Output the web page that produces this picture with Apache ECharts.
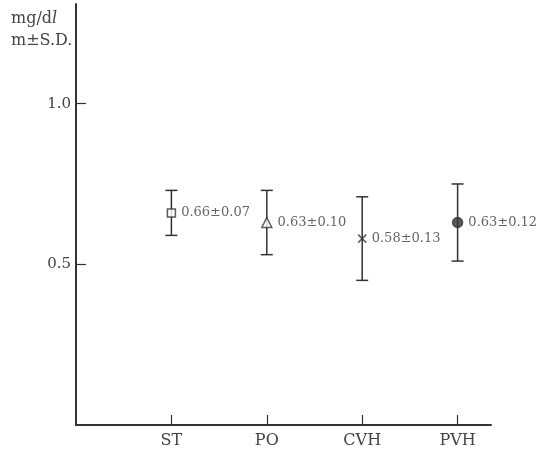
<!DOCTYPE html>
<html>
<head>
<meta charset="utf-8">
<script src="https://cdn.jsdelivr.net/npm/echarts@6/dist/echarts.min.js"></script>
<style>
  html, body { margin: 0; padding: 0; background: #fff; }
  #main { width: 540px; height: 455px; }
</style>
</head>
<body>
<div id="main"></div>
<script>
// 数据
var groups = ['ST', 'PO', 'CVH', 'PVH'];
var means = [0.66, 0.63, 0.58, 0.63];
var sds = [0.07, 0.10, 0.13, 0.12];
var yTicks = [0.5, 1.0];
var xTicks = [1, 2, 3, 4];

var ink = '#333';
var txt = '#444';
var font = 'DejaVu Serif';

// 各组的标记
var marks = [
	{ symbol: 'rect', size: 8, fill: '#fff', gap: 5 },
	{ symbol: 'triangle', size: 10, fill: '#fff', gap: 5 },
	{ symbol: 'path://M0,0L10,10M10,0L0,10', size: 8, fill: 'none', gap: 3 },
	{ symbol: 'circle', size: 10, fill: ink, gap: 5 }
];

var pts = groups.map(function(g, i) {
	return {
		value: [xTicks[i], means[i], sds[i]],
		symbol: marks[i].symbol,
		symbolSize: marks[i].size,
		itemStyle: { color: marks[i].fill, borderColor: ink, borderWidth: 1.5 },
		label: { distance: marks[i].gap }
	};
});

var chart = echarts.init(document.getElementById('main'));
var option = {
	animation: false,
	backgroundColor: '#fff',
	title: {
		left: 6,
		top: 3,
		text: '{a|mg/d}{b|l}\n{a|m±S.D.}',
		textStyle: {
			fontWeight: 'normal',
			rich: {
				a: { fontFamily: font, fontSize: 16, fontWeight: 'normal', color: txt, lineHeight: 22 },
				b: { fontFamily: font, fontSize: 16, fontWeight: 'normal', fontStyle: 'italic', color: txt, lineHeight: 22 }
			}
		}
	},
	grid: { left: 76, right: 49, top: 4, bottom: 30 },
	xAxis: {
		type: 'value',
		min: 0,
		max: 4.35,
		interval: 1,
		splitLine: { show: false },
		axisLine: { show: true, lineStyle: { color: ink, width: 2 } },
		axisTick: { show: true, inside: true, length: 10, customValues: xTicks, lineStyle: { color: ink, width: 1.2 } },
		axisLabel: {
			margin: 8,
			color: txt,
			fontFamily: font,
			fontSize: 16,
			customValues: xTicks,
			formatter: function(v) { return groups[xTicks.indexOf(v)] || ''; }
		}
	},
	yAxis: {
		type: 'value',
		min: 0,
		max: 1.31,
		interval: 0.5,
		splitLine: { show: false },
		axisLine: { show: true, lineStyle: { color: ink, width: 2 } },
		axisTick: { show: true, inside: true, length: 10, customValues: yTicks, lineStyle: { color: ink, width: 1.2 } },
		axisLabel: {
			margin: 5,
			color: txt,
			fontFamily: font,
			fontSize: 15,
			customValues: yTicks,
			formatter: function(v) { return v.toFixed(1); }
		}
	},
	series: [{
		// 误差线
		type: 'custom',
		data: groups.map(function(g, i) { return [xTicks[i], means[i], sds[i]]; }),
		renderItem: function(params, api) {
			var x = api.value(0), m = api.value(1), s = api.value(2);
			var hi = api.coord([x, m + s]);
			var lo = api.coord([x, m - s]);
			var w = 6;
			var st = { stroke: ink, lineWidth: 1.5 };
			return {
				type: 'group',
				children: [
					{ type: 'line', shape: { x1: hi[0], y1: hi[1], x2: lo[0], y2: lo[1] }, style: st },
					{ type: 'line', shape: { x1: hi[0] - w, y1: hi[1], x2: hi[0] + w, y2: hi[1] }, style: st },
					{ type: 'line', shape: { x1: lo[0] - w, y1: lo[1], x2: lo[0] + w, y2: lo[1] }, style: st }
				]
			};
		},
		z: 1
	}, {
		type: 'scatter',
		data: pts,
		z: 3,
		label: {
			show: true,
			position: 'right',
			color: '#3c3c3c',
			fontFamily: font,
			fontSize: 13,
			formatter: function(p) { return p.value[1].toFixed(2) + '±' + p.value[2].toFixed(2); }
		}
	}]
};
chart.setOption(option);
</script>
</body>
</html>
